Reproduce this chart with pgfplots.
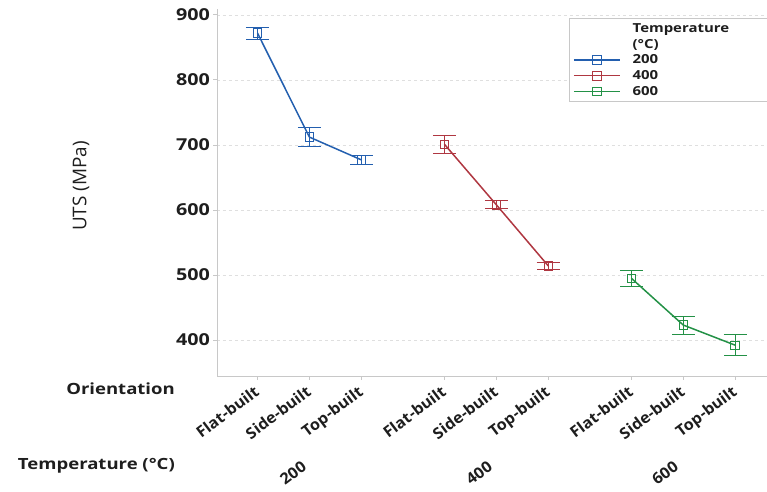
\documentclass[border=0pt]{standalone}
\usepackage{pgfplots}
\pgfplotsset{compat=1.18}
\usepackage{fontspec}
\setmainfont{Open Sans}[FakeStretch=1.2]
\newfontfamily\ylabfont{Open Sans}
\newfontfamily\sbrfont{Open Sans}[FakeStretch=1.05]
\definecolor{cblue}{RGB}{35,95,175}
\definecolor{cred}{RGB}{175,55,65}
\definecolor{cgreen}{RGB}{35,145,70}
\definecolor{frame}{RGB}{200,200,200}
\definecolor{txt}{RGB}{30,30,30}
\begin{document}
\begin{tikzpicture}
\path[use as bounding box] (0,0) rectangle (767bp,492bp);
\begin{axis}[
  at={(217bp,116bp)}, anchor=south west,
  scale only axis, width=555bp, height=367bp,
  xmin=-0.78, xmax=9.91, ymin=344.6, ymax=909,
  axis line style={draw=frame, line width=0.8pt},
  axis x line*=bottom, axis y line*=left,
  /pgf/number format/assume math mode=true,
  ytick={400,500,600,700,800,900},
  ymajorgrids, grid style={dashed, draw=gray!25, line width=0.6pt},
  xtick={0,1,2,3.6,4.6,5.6,7.2,8.2,9.2},
  xticklabels={Flat-built,Side-built,Top-built,Flat-built,Side-built,Top-built,Flat-built,Side-built,Top-built},
  tick align=outside, major tick length=4bp,
  tick style={draw=frame, line width=0.8pt},
  xticklabel style={rotate=37, anchor=north east, inner sep=1pt, xshift=-5bp, yshift=0bp, text=txt, font=\sbrfont\bfseries\fontsize{15.5}{15.5}\selectfont},
  yticklabel style={text=txt, inner sep=3pt, font=\bfseries\fontsize{16.5}{16.5}\selectfont},
  legend cell align=left,
  legend style={at={(0.634,0.975)}, anchor=north west, draw=frame, line width=0.6pt,
    font=\fontsize{12.5}{12.5}\selectfont\bfseries, text=txt, row sep=1.2pt, inner xsep=4pt, inner ysep=3pt},
  legend image code/.code={\draw[mark repeat=2,mark phase=2] plot coordinates {(0bp,0bp)(23bp,0bp)(46bp,0bp)};\path (56bp,0bp);},
  every axis plot/.append style={line width=1.5pt, mark=square, mark size=4.3bp, mark options={line width=0.7pt, solid}},
  error bars/y dir=both, error bars/y explicit,
  error bars/error bar style={line width=0.8pt},
  error bars/error mark options={rotate=90, mark size=11.5bp, line width=0.8pt},
]
\addlegendimage{empty legend}\addlegendentry{Temperature\hspace*{45bp}}
\addlegendimage{empty legend}\addlegendentry{(°C)}
\addplot[cblue] coordinates {
  (0,872) +- (0,9)
  (1,712) +- (0,15)
  (2,677) +- (0,7)
};
\addlegendentry{200}
\addplot[cred] coordinates {
  (3.6,701) +- (0,14)
  (4.6,608) +- (0,6)
  (5.6,514) +- (0,6)
};
\addlegendentry{400}
\addplot[cgreen] coordinates {
  (7.2,495) +- (0,12)
  (8.2,423) +- (0,14)
  (9.2,392) +- (0,16)
};
\addlegendentry{600}
\end{axis}
\node[anchor=east, text=txt, font=\bfseries\fontsize{15.5}{15.5}\selectfont, inner sep=0pt] at (175bp,103bp) {Orientation};
\node[anchor=east, text=txt, font=\bfseries\fontsize{15.5}{15.5}\selectfont, inner sep=0pt] at (175bp,26bp) {Temperature (°C)};
\node[rotate=90, text=txt, font=\ylabfont\fontsize{19}{19}\selectfont, inner sep=0pt] at (81bp,306bp) {UTS (MPa)};
\node[rotate=37, text=txt, font=\sbrfont\bfseries\fontsize{15.5}{15.5}\selectfont, inner sep=0pt] at (293bp,19bp) {200};
\node[rotate=37, text=txt, font=\sbrfont\bfseries\fontsize{15.5}{15.5}\selectfont, inner sep=0pt] at (479bp,19bp) {400};
\node[rotate=37, text=txt, font=\sbrfont\bfseries\fontsize{15.5}{15.5}\selectfont, inner sep=0pt] at (665bp,19bp) {600};
\end{tikzpicture}
\end{document}
